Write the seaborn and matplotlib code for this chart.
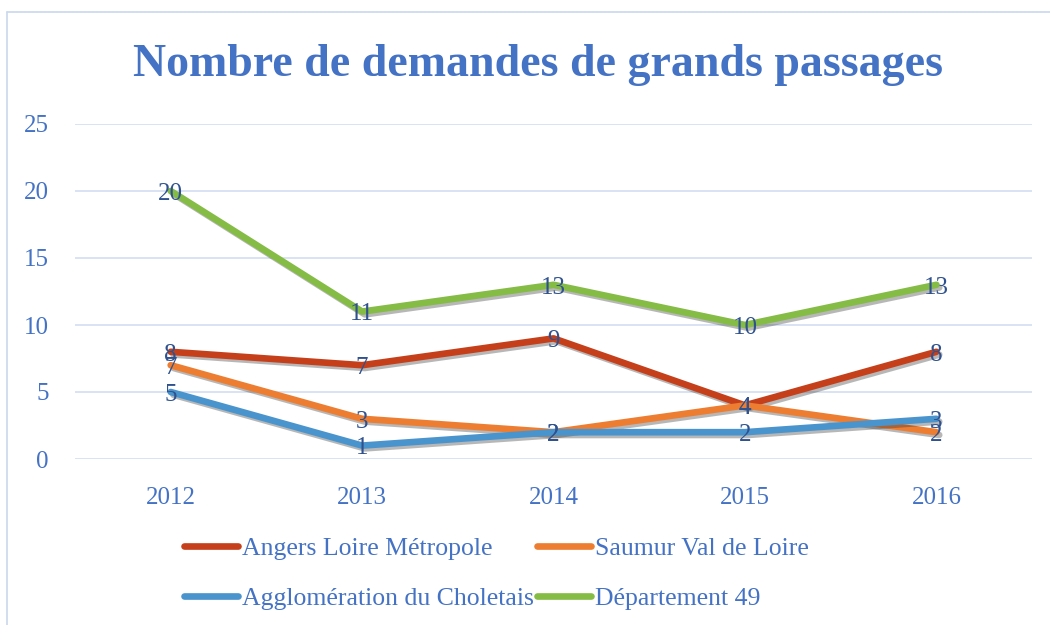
import pandas as pd
import numpy as np
import seaborn as sns
import matplotlib.pyplot as plt
import matplotlib.patheffects as pe

years = ['2012', '2013', '2014', '2015', '2016']
angers = [8, 7, 9, 4, 8]
saumur = [7, 3, 2, 4, 2]
choletais = [5, 1, 2, 2, 3]
departement = [20, 11, 13, 10, 13]

series_names = ['Angers Loire Métropole', 'Saumur Val de Loire',
                'Agglomération du Choletais', 'Département 49']
colors = ['#C5401A', '#ED7D31', '#4A94CD', '#84BC46']

df = pd.DataFrame({
    'annee': years * 4,
    'valeur': angers + saumur + choletais + departement,
    'serie': np.repeat(series_names, len(years)),
})

sns.set_style('white')
plt.rcParams['font.family'] = ['Liberation Serif', 'DejaVu Serif']

fig = plt.figure(figsize=(10.5, 6.25), dpi=100)
ax = fig.add_axes([0.0714, 0.2656, 0.9116, 0.536])

# cadre du graphique
fig.add_artist(plt.Line2D([0.0067, 0.0067], [0, 0.981], color='#c9d8ee', lw=1.2))
fig.add_artist(plt.Line2D([0.0067, 1], [0.981, 0.981], color='#c9d8ee', lw=1.2))

shadow = [pe.SimpleLineShadow(offset=(2, -2), shadow_color='#333333', alpha=0.35), pe.Normal()]
sns.lineplot(data=df, x='annee', y='valeur', hue='serie', hue_order=series_names,
             palette=colors, linewidth=4.8, ax=ax, sort=False,
             path_effects=shadow, solid_capstyle='round', solid_joinstyle='round')

# étiquettes de données
for vals in [angers, saumur, choletais, departement]:
    for i, v in enumerate(vals):
        ax.annotate(str(v), (i, v), xytext=(0, -2), textcoords='offset points',
                    ha='center', va='center', fontsize=18, color='#2F528F')

ax.set_xlim(-0.5, 4.5)
ax.set_ylim(0, 25)
ax.set_yticks([0, 5, 10, 15, 20, 25])
ax.grid(axis='y', color='#d5e0f2', lw=1.3)
ax.set_axisbelow(True)
for s in ax.spines.values():
    s.set_visible(False)
ax.tick_params(axis='both', length=0, labelsize=18, labelcolor='#4472C4')
ax.tick_params(axis='x', pad=20)
ax.tick_params(axis='y', pad=19)
ax.set_xlabel('')
ax.set_ylabel('')

fig.text(0.512, 0.896, 'Nombre de demandes de grands passages', ha='center', va='center',
         fontsize=33, fontweight='bold', color='#4472C4')

ax.get_legend().remove()
handles, labels = ax.get_legend_handles_labels()
order = [0, 2, 1, 3]
leg = fig.legend([handles[k] for k in order], [labels[k] for k in order],
                 loc='center', bbox_to_anchor=(0.473, 0.083), ncol=2,
                 frameon=False, fontsize=18.5, labelcolor='#4472C4', handlelength=2.1,
                 handletextpad=0.16, columnspacing=0.1, labelspacing=1.05)
for line in leg.get_lines():
    line.set_linewidth(4.8)
    line.set_path_effects([])

fig.savefig('out.png', dpi=100)
